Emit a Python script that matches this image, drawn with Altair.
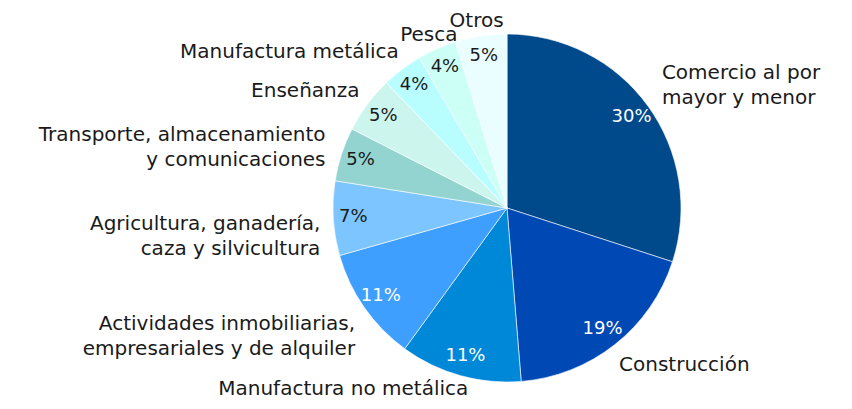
import altair as alt
import pandas as pd

categories = [
    "Comercio al por mayor y menor",
    "Construcción",
    "Manufactura no metálica",
    "Actividades inmobiliarias, empresariales y de alquiler",
    "Agricultura, ganadería, caza y silvicultura",
    "Transporte, almacenamiento y comunicaciones",
    "Enseñanza",
    "Manufactura metálica",
    "Pesca",
    "Otros",
]
label_lines = [
    "Comercio al por\nmayor y menor",
    "Construcción",
    "Manufactura no metálica",
    "Actividades inmobiliarias,\nempresariales y de alquiler",
    "Agricultura, ganadería,\ncaza y silvicultura",
    "Transporte, almacenamiento\ny comunicaciones",
    "Enseñanza",
    "Manufactura metálica",
    "Pesca",
    "Otros",
]
values = [30.0, 18.7, 11.3, 10.6, 6.9, 5.0, 5.3, 3.8, 3.6, 4.8]
colors = ["#004A8C", "#0049B4", "#0088D8", "#3F9FFF", "#7CC5FF",
          "#93D4D1", "#CCF5EE", "#B8FDFF", "#CCFFF6", "#EBFEFF"]

df = pd.DataFrame({
    "idx": list(range(len(categories))),
    "category": categories,
    "label": label_lines,
    "value": values,
})

FONT = "DejaVu Sans"
CX, CY = 499, 200
theta_scale = alt.Scale(domain=[0, 1], range=[0, 6.283185307179586])

base = alt.Chart(df).transform_joinaggregate(
    total="sum(value)"
).transform_window(
    cum="sum(value)", frame=[None, 0], sort=[alt.SortField("idx")]
).transform_calculate(
    start="(datum.cum - datum.value) / datum.total",
    end="datum.cum / datum.total",
    mid="(datum.cum - datum.value / 2) / datum.total",
    pct="format(datum.value, '.0f') + '%'",
    multi="indexof(datum.label, '\\n') >= 0",
)

arcs = base.mark_arc(radius=174, stroke="white", strokeWidth=0.6).encode(
    x=alt.value(CX), y=alt.value(CY),
    theta=alt.Theta("start:Q", scale=theta_scale),
    theta2="end:Q",
    color=alt.Color("category:N", scale=alt.Scale(domain=categories, range=colors), legend=None),
)

pct = base.mark_text(font=FONT, fontSize=18, baseline="middle", align="center").encode(
    x=alt.value(CX), y=alt.value(CY),
    theta=alt.Theta("mid:Q", scale=theta_scale),
    radius=alt.value(154),
    text="pct:N",
    color=alt.condition("datum.idx < 4", alt.value("white"), alt.value("#1a1a1a")),
)

def side_labels(cond, align, r, dx, dy):
    return base.transform_filter(cond).mark_text(
        font=FONT, fontSize=20, align=align, baseline="middle",
        lineBreak="\n", color="#1a1a1a", lineHeight=25, dx=dx, dy=dy,
    ).encode(
        x=alt.value(CX), y=alt.value(CY),
        theta=alt.Theta("mid:Q", scale=theta_scale),
        radius=alt.value(r),
        text="label:N",
    )

layers = [
    arcs, pct,
    side_labels("datum.mid < 0.3 && datum.multi", "left", 210, -15, -12),
    side_labels("datum.mid < 0.45 && !datum.multi", "left", 200, -12, 0),
    side_labels("datum.mid >= 0.45 && datum.mid < 0.6 && !datum.multi", "right", 188, 12, 0),
    side_labels("datum.mid >= 0.6 && datum.mid < 0.9 && !datum.multi", "right", 196, 10, 0),
    side_labels("datum.mid >= 0.55 && datum.mid < 0.78 && datum.multi", "right", 195, 8, 4),
    side_labels("datum.mid >= 0.78 && datum.mid < 0.9 && datum.multi", "right", 195, 4, -13),
    side_labels("datum.mid >= 0.9", "center", 189, -2, 0),
]

chart = alt.layer(*layers).properties(
    width=836, height=393, padding=0,
    autosize=alt.AutoSizeParams(type="none"),
).configure(background="white").configure_view(stroke=None)

chart.save("out.html", embed_options={"renderer": "svg", "actions": False})
